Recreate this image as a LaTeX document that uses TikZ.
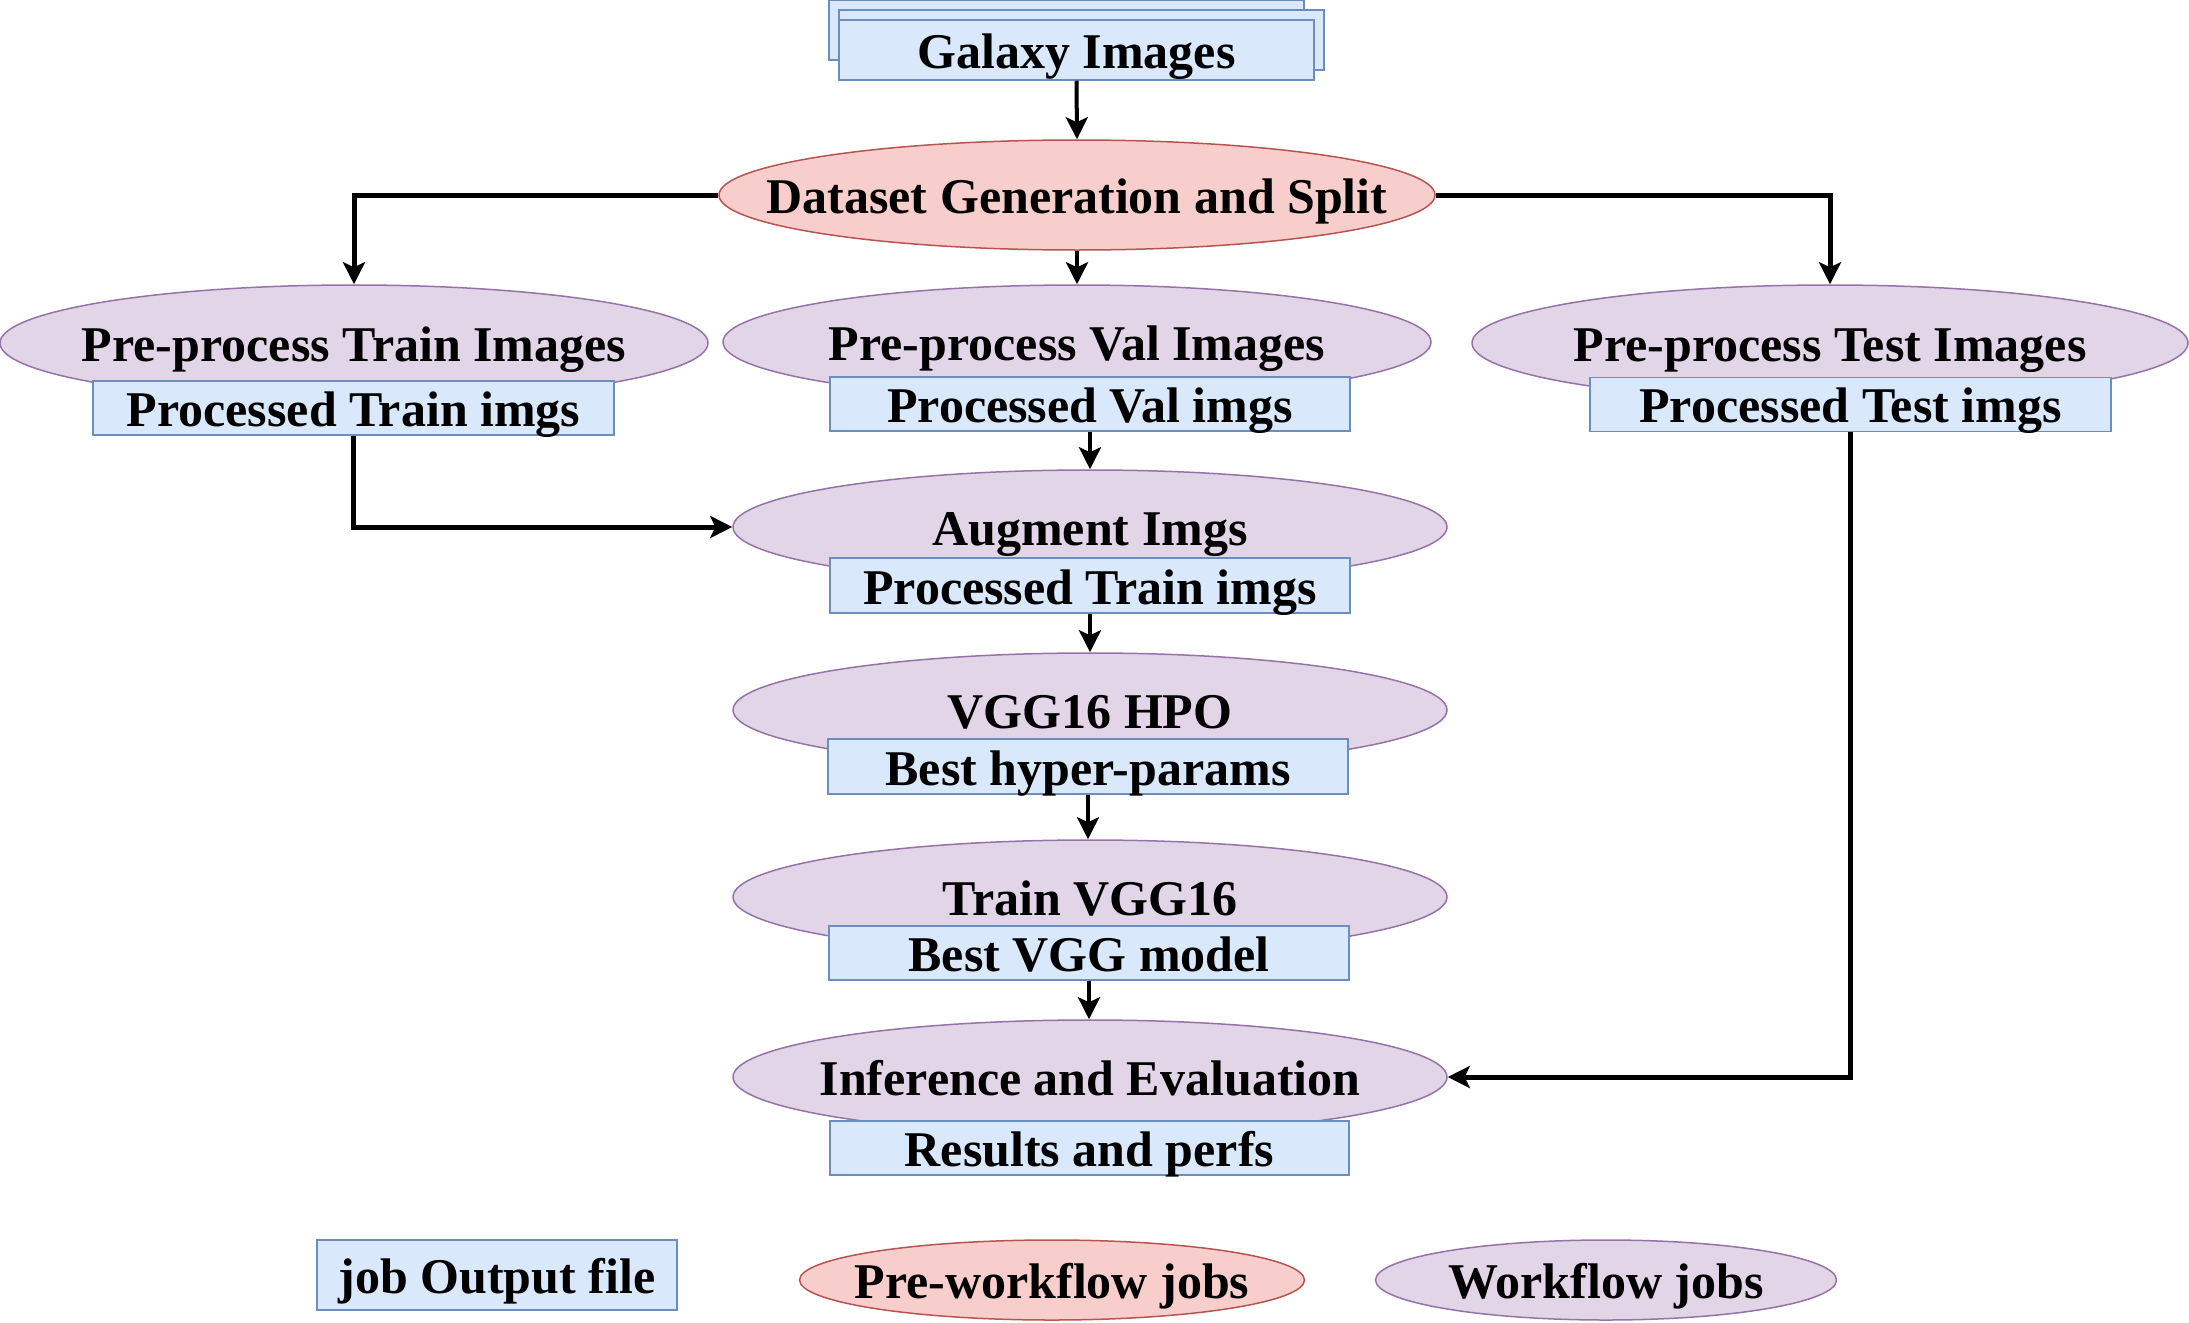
\documentclass[tikz,border=0pt]{standalone}
\usepackage{fontspec}
\setmainfont{Liberation Serif}
\usetikzlibrary{shapes.geometric,arrows.meta}
\definecolor{bfill}{HTML}{DAE8FC}
\definecolor{bline}{HTML}{6C8EBF}
\definecolor{rfill}{HTML}{F8CECC}
\definecolor{rline}{HTML}{B85450}
\definecolor{pfill}{HTML}{E1D5E7}
\definecolor{pline}{HTML}{9673A6}
\tikzset{
  filebox/.style={draw=bline,fill=bfill,line width=1.5pt,rectangle,inner sep=0pt,minimum width=520pt,minimum height=54pt},
  prejob/.style={draw=rline,fill=rfill,line width=1.5pt,ellipse,inner sep=0pt},
  wfjob/.style={draw=pline,fill=pfill,line width=1.5pt,ellipse,inner sep=0pt,minimum width=714pt,minimum height=114pt},
  lbl/.style={font=\fontsize{50}{60}\selectfont\bfseries,anchor=base,inner sep=0pt},
  conn/.style={line width=4pt,-{Stealth[length=22pt,width=22pt,inset=5pt]}},
  elbow/.style={line width=5pt,-{Stealth[length=22pt,width=22pt,inset=5pt]}},
}
\begin{document}
\begin{tikzpicture}[x=1pt,y=-1pt]
\useasboundingbox (0,0) rectangle (2189,1322);
% Galaxy images stack
\node[filebox,minimum width=475pt,minimum height=60pt] (gb1) at (1066.5,30) {};
\node[filebox,minimum width=485pt,minimum height=60pt] (gb2) at (1081.5,40) {};
\node[filebox,minimum width=475pt,minimum height=60pt] (gal) at (1076.5,50) {};
\node[lbl] (galt) at (1076.5,68) {Galaxy Images};
% Dataset
\node[prejob,minimum width=716pt,minimum height=110pt] (ds) at (1077,195) {};
\node[lbl] (dst) at (1077,213) {Dataset Generation and Split};
% Pre-process row
\node[wfjob,minimum width=708pt,minimum height=116pt] (ptrain) at (354,343) {};
\node[lbl] (ptraint) at (354,361) {Pre-process Train Images};
\node[wfjob,minimum width=708pt] (pval) at (1077,342) {};
\node[lbl] (pvalt) at (1077,360) {Pre-process Val Images};
\node[wfjob,minimum width=716pt,minimum height=116pt] (ptest) at (1830,343) {};
\node[lbl] (ptestt) at (1830,361) {Pre-process Test Images};
\node[filebox,minimum width=521pt] (trbox) at (353.5,408) {};
\node[lbl] (trboxt) at (353.5,426) {Processed Train imgs};
\node[filebox] (valbox) at (1090,404) {};
\node[lbl] (valboxt) at (1090,422) {Processed Val imgs};
\node[filebox,minimum width=521pt] (testbox) at (1850.5,404.5) {};
\node[lbl] (testboxt) at (1850.5,422.5) {Processed Test imgs};
% Augment
\node[wfjob] (aug) at (1090,527) {};
\node[lbl] (augt) at (1090,545) {Augment Imgs};
\node[filebox,minimum height=55pt] (augbox) at (1090,585.5) {};
\node[lbl] (augboxt) at (1090,604) {Processed Train imgs};
% HPO
\node[wfjob] (hpo) at (1090,710) {};
\node[lbl] (hpot) at (1090,728) {VGG16 HPO};
\node[filebox,minimum height=55pt] (hpobox) at (1088,766.5) {};
\node[lbl] (hpoboxt) at (1088,785) {Best hyper-params};
% Train
\node[wfjob] (trn) at (1090,897) {};
\node[lbl] (trnt) at (1090,915) {Train VGG16};
\node[filebox] (vggbox) at (1089,953) {};
\node[lbl] (vggboxt) at (1089,971) {Best VGG model};
% Inference
\node[wfjob] (inf) at (1090,1077) {};
\node[lbl] (inft) at (1090,1095) {Inference and Evaluation};
\node[filebox,minimum width=519pt] (resbox) at (1089.5,1148) {};
\node[lbl] (resboxt) at (1089.5,1166) {Results and perfs};
% Legend
\node[filebox,minimum width=360pt,minimum height=70pt] (legbox) at (497,1275) {};
\node[lbl] (legboxt) at (497,1293) {job Output file};
\node[prejob,minimum width=505pt,minimum height=80pt] (legpre) at (1052,1280) {};
\node[lbl] (legpret) at (1052,1298) {Pre-workflow jobs};
\node[wfjob,minimum width=461pt,minimum height=80pt] (legwf) at (1606,1280) {};
\node[lbl] (legwft) at (1606,1298) {Workflow jobs};
% Connectors
\draw[conn] (gal.south) -- (ds.north);
\draw[conn] (ds.south) -- (pval.north);
\draw[elbow] (ds.west) -| (ptrain.north);
\draw[elbow] (ds.east) -| (ptest.north);
\draw[elbow] (trbox.south) |- (aug.west);
\draw[conn] (valbox.south) -- (aug.north);
\draw[conn] (augbox.south) -- (hpo.north);
\draw[conn] (hpobox.south) -- (hpobox.south |- trn.north);
\draw[conn] (vggbox.south) -- (vggbox.south |- inf.north);
\draw[elbow] (testbox.south) |- (inf.east);
\end{tikzpicture}
\end{document}
